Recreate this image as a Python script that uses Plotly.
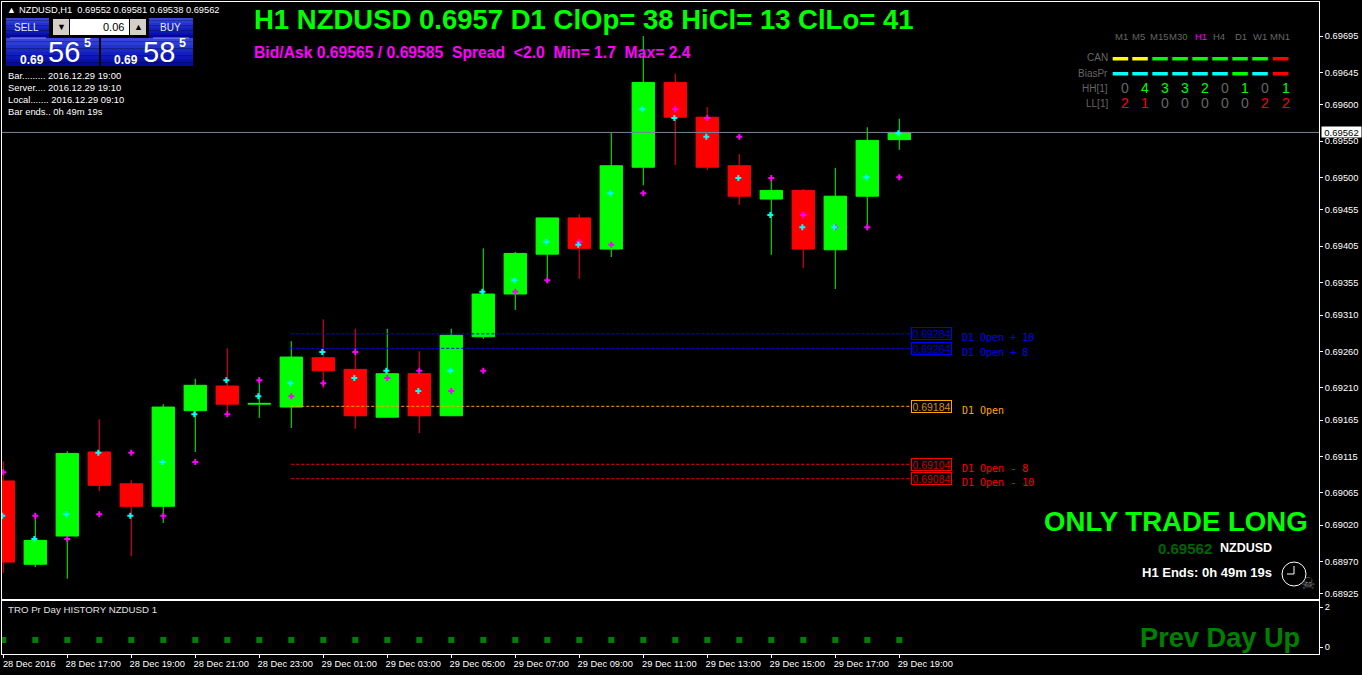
import plotly.graph_objects as go

hours = list(range(29))
opens = [0.69081,0.68966,0.69005,0.69121,0.69077,0.69046,0.69178,0.69212,0.69187,0.69183,0.69251,0.69235,0.69169,0.69229,0.69171,0.69280,0.69339,0.69394,0.69444,0.69401,0.69514,0.69631,0.69583,0.69516,0.69470,0.69482,0.69400,0.69474,0.69552]
highs = [0.69108,0.69033,0.69122,0.69166,0.69082,0.69187,0.69222,0.69264,0.69224,0.69274,0.69304,0.69291,0.69291,0.69260,0.69291,0.69402,0.69397,0.69444,0.69449,0.69562,0.69695,0.69643,0.69597,0.69532,0.69499,0.69484,0.69513,0.69569,0.69581]
lows = [0.68954,0.68962,0.68946,0.69067,0.68977,0.69023,0.69121,0.69173,0.69168,0.69154,0.69209,0.69153,0.69169,0.69147,0.69171,0.69277,0.69317,0.69354,0.69360,0.69390,0.69489,0.69517,0.69510,0.69462,0.69393,0.69375,0.69346,0.69427,0.69538]
closes = [0.68969,0.68999,0.69119,0.69075,0.69046,0.69183,0.69213,0.69187,0.69188,0.69252,0.69233,0.69171,0.69229,0.69171,0.69282,0.69339,0.69395,0.69444,0.69402,0.69516,0.69631,0.69583,0.69514,0.69474,0.69482,0.69401,0.69474,0.69551,0.69562]
cyan_marks = [0.69033,0.69001,0.69035,0.69120,0.69033,0.69107,0.69173,0.69220,0.69198,0.69216,0.69259,0.69223,0.69233,0.69205,0.69233,0.69342,0.69358,0.69411,0.69407,0.69478,0.69594,0.69582,0.69556,0.69499,0.69448,0.69431,0.69431,0.69500,0.69561]
magenta_marks = [0.69093,0.69033,0.69001,0.69035,0.69120,0.69033,0.69107,0.69173,0.69220,0.69198,0.69216,0.69259,0.69223,0.69233,0.69205,0.69233,0.69342,0.69358,0.69411,0.69407,0.69478,0.69594,0.69582,0.69556,0.69499,0.69448,0.69431,0.69431,0.69500]
history_marks = [0.35] * 29

price_ticks = [0.69695,0.69645,0.69600,0.69550,0.69500,0.69455,0.69405,0.69355,0.69310,0.69260,0.69210,0.69165,0.69115,0.69065,0.69020,0.68970,0.68925]
time_ticks = [0,2,4,6,8,10,12,14,16,18,20,22,24,26,28]
time_labels = ["28 Dec 2016","28 Dec 17:00","28 Dec 19:00","28 Dec 21:00","28 Dec 23:00","29 Dec 01:00","29 Dec 03:00","29 Dec 05:00","29 Dec 07:00","29 Dec 09:00","29 Dec 11:00","29 Dec 13:00","29 Dec 15:00","29 Dec 17:00","29 Dec 19:00"]

level_prices = [0.69284,0.69264,0.69184,0.69104,0.69084]
level_names = ["D1 Open + 10","D1 Open + 8","D1 Open","D1 Open - 8","D1 Open - 10"]
level_colors = ["#0000ff","#0000ff","#ffa500","#ff0000","#ff0000"]
level_text_colors = ["#0000d0","#0000d0","#d89000","#d00000","#d00000"]
last_price = 0.69562

tf_names = ["M1","M5","M15","M30","H1","H4","D1","W1","MN1"]
can_colors = ["#ffff00","#ffff00","#00ff00","#00ff00","#00ff00","#00ff00","#00ff00","#00ff00","#ff0000"]
bias_colors = ["#00ffff"]*6 + ["#00ff00","#00ffff","#ff0000"]
hh_values = [0,4,3,3,2,0,1,0,1]
ll_values = [2,1,0,0,0,0,0,2,2]

L, R, T, B = 2, 1319, 2, 654
W, H = 1362, 675
MAIN_BOTTOM, SUB_TOP = 598.7, 600.7
def px(x): return (x - L) / (R - L)
def py(y): return 1 - (y - T) / (B - T)

FONT = "Liberation Sans"
annotations, shapes = [], []

def text(x, y, s, color="#ffffff", size=10, anchor="left", bold=False, family=FONT, **kw):
    annotations.append(dict(x=px(x), y=py(y), xref="paper", yref="paper", text=f"<b>{s}</b>" if bold else s,
                            showarrow=False, xanchor=anchor, yanchor="middle", align=anchor,
                            borderpad=0, font=dict(color=color, size=size, family=family), **kw))

def rect(x0, y0, x1, y1, fill, line=None):
    shapes.append(dict(type="rect", xref="paper", yref="paper", x0=px(x0), x1=px(x1), y0=py(y0), y1=py(y1),
                       fillcolor=fill, line=dict(width=1 if line else 0, color=line or fill), layer="above"))

fig = go.Figure()
fig.add_trace(go.Candlestick(x=hours, open=opens, high=highs, low=lows, close=closes, xaxis="x2", yaxis="y",
    increasing=dict(line=dict(color="#00ff00", width=1), fillcolor="#00ff00"),
    decreasing=dict(line=dict(color="#ff0000", width=1), fillcolor="#ff0000"),
    whiskerwidth=0, hoverinfo="skip", showlegend=False))

level_start, level_end = 9, 28.37
for p, c in zip(level_prices, level_colors):
    fig.add_trace(go.Scatter(x=[level_start, level_end], y=[p, p], mode="lines", xaxis="x2", yaxis="y",
                             line=dict(color=c, width=1, dash="3px,2px"), hoverinfo="skip", showlegend=False))
fig.add_trace(go.Scatter(x=[-1, 42], y=[last_price, last_price], mode="lines", xaxis="x2", yaxis="y",
                         line=dict(color="#778899", width=1), hoverinfo="skip", showlegend=False))
fig.add_trace(go.Scatter(x=hours, y=magenta_marks, mode="markers", xaxis="x2", yaxis="y",
                         marker=dict(symbol="cross", size=5, color="#ff00ff"), hoverinfo="skip", showlegend=False))
fig.add_trace(go.Scatter(x=[h - 0.03 for h in hours], y=cyan_marks, mode="markers", xaxis="x2", yaxis="y",
                         marker=dict(symbol="cross", size=5, color="#00ffff"), hoverinfo="skip", showlegend=False))
fig.add_trace(go.Scatter(x=hours, y=history_marks, mode="markers", xaxis="x", yaxis="y2",
                         marker=dict(symbol="square", size=6, color="#008000"), hoverinfo="skip", showlegend=False))

# Price levels: boxed values and names
for p, n, c, tc in zip(level_prices, level_names, level_colors, level_text_colors):
    annotations.append(dict(x=px(931.5), y=p, xref="paper", yref="y", text=f"{p:.5f}", showarrow=False,
                            xanchor="center", yanchor="middle", width=39, height=11, borderwidth=1, borderpad=0,
                            bordercolor=c, font=dict(color=tc, size=10.5, family=FONT)))
    annotations.append(dict(x=px(960), y=p, yshift=-4, xref="paper", yref="y", text=n, showarrow=False,
                            xanchor="left", yanchor="middle", font=dict(color=c, size=10, family="DejaVu Sans Mono")))
annotations.append(dict(x=px(1321), y=last_price, xref="paper", yref="y", text=f"{last_price:.5f}", showarrow=False,
                        xanchor="left", yanchor="middle", width=39, height=10, bgcolor="#ffffff", borderpad=0,
                        font=dict(color="#000000", size=9.5, family=FONT)))

# Header
text(6, 10, "▲", size=9)
text(18, 10.5, "NZDUSD,H1&nbsp;&nbsp;0.69552 0.69581 0.69538 0.69562", size=9.3)
text(253, 20, "H1 NZDUSD 0.6957 D1 ClOp= 38 HiCl= 13 ClLo= 41", "#00ff00", 27.5, bold=True)
text(253, 52, "Bid/Ask 0.69565 / 0.69585&nbsp;&nbsp;Spread&nbsp;&nbsp;&lt;2.0&nbsp;&nbsp;Min= 1.7&nbsp;&nbsp;Max= 2.4", "#ff00ff", 15.7, bold=True)

# One click trading panel
BLUES = ["#3646dc", "#2c3cd6", "#2232ce", "#1a28c6", "#1420be", "#0e18b4", "#0a10aa", "#0608a0"]
def gradient(x0, y0, x1, y1):
    n = len(BLUES)
    for i, c in enumerate(BLUES):
        rect(x0, y0 + (y1 - y0) * i / n, x1, y0 + (y1 - y0) * (i + 1) / n, c)
gradient(6, 18, 49, 38)
gradient(149, 18, 193, 38)
gradient(6, 38, 99, 66)
gradient(101, 38, 193, 66)
rect(53, 19, 69, 35, "#d4d0c8")
rect(70, 19, 129, 35, "#ffffff")
rect(130, 19, 146, 35, "#d4d0c8")
shapes.append(dict(type="line", xref="paper", yref="paper", x0=px(10), x1=px(46), y0=py(38), y1=py(38),
                   line=dict(color="#8890e8", width=1), layer="above"))
shapes.append(dict(type="line", xref="paper", yref="paper", x0=px(153), x1=px(189), y0=py(38), y1=py(38),
                   line=dict(color="#8890e8", width=1), layer="above"))
text(26.7, 28, "SELL", "#e8e8ff", 10, "center")
text(170, 28, "BUY", "#e8e8ff", 10, "center")
text(61, 27, "▼", "#000000", 9, "center")
text(138, 27, "▲", "#000000", 9, "center")
text(124.5, 27, "0.06", "#000000", 11, "right")
text(19, 60, "0.69", "#ffffff", 12, bold=True)
text(47, 52, "56", "#ffffff", 29)
text(83, 43, "5", "#ffffff", 12.5, bold=True)
text(113, 60, "0.69", "#ffffff", 12, bold=True)
text(142, 52, "58", "#ffffff", 29)
text(178, 43, "5", "#ffffff", 12.5, bold=True)

for y, s in zip([75, 87, 99, 111], ["Bar......... 2016.12.29 19:00", "Server.... 2016.12.29 19:10",
                                    "Local....... 2016.12.29 09:10", "Bar ends.. 0h 49m 19s"]):
    text(7, y, s, "#ffffff", 9.4)

# Timeframe table
head_x = [1121.7, 1138.7, 1159, 1178, 1201, 1219, 1240.7, 1260, 1280]
num_x = [1125, 1145, 1165, 1185, 1205, 1225, 1245, 1265, 1285.7]
dash_x = [1112.7, 1132.3, 1152.3, 1172.3, 1192.3, 1212.3, 1232.3, 1252.3, 1273]
for name, x in zip(tf_names, head_x):
    text(x, 36, name, "#ff00ff" if name == "H1" else "#666666", 9.5, "center")
for y, s in zip([58, 73, 88, 103], ["CAN", "BiasPr", "HH[1]", "LL[1]"]):
    text(1109, y, s, "#666666", 10, "right")
for i in range(9):
    rect(dash_x[i], 57, dash_x[i] + 15.5, 60.5, can_colors[i])
    rect(dash_x[i], 72, dash_x[i] + 15.5, 75.5, bias_colors[i])
    text(num_x[i], 88, str(hh_values[i]), "#00ff00" if hh_values[i] else "#666666", 14, "center")
    text(num_x[i], 103, str(ll_values[i]), "#ff0000" if ll_values[i] else "#666666", 14, "center")

# Lower right block
text(1309, 521, "ONLY TRADE LONG", "#00ff00", 27.6, "right", bold=True)
text(1213, 548, "0.69562", "#006400", 15, "right", bold=True)
text(1273, 548, "NZDUSD", "#ffffff", 12.5, "right", bold=True)
text(1273, 572, "H1 Ends: 0h 49m 19s", "#ffffff", 13, "right", bold=True)
shapes.append(dict(type="circle", xref="paper", yref="paper", x0=px(1282), x1=px(1306), y0=py(562), y1=py(586),
                   line=dict(color="#ffffff", width=1), layer="above"))
for x0, y0, x1, y1 in [(1294, 574, 1294, 566), (1294, 574, 1287, 574)]:
    shapes.append(dict(type="line", xref="paper", yref="paper", x0=px(x0), x1=px(x1), y0=py(y0), y1=py(y1),
                       line=dict(color="#ffffff", width=1), layer="above"))
text(1308, 583, "☠", "#777777", 16, "center", family="DejaVu Sans")

# Sub window
text(7, 609, "TRO Pr Day HISTORY NZDUSD 1", "#e0e0e0", 9.7)
text(1301, 637, "Prev Day Up", "#008000", 27.2, "right", bold=True)

axis_common = dict(showgrid=False, zeroline=False, showline=True, linecolor="#ffffff", linewidth=1, mirror=True,
                   ticks="outside", ticklen=3, tickcolor="#ffffff", tickwidth=1,
                   tickfont=dict(color="#ffffff", size=9.3, family=FONT))
x_range = [-0.04, 41.116]
span = B - T
y_split = (B - MAIN_BOTTOM) / span
y_split2 = (B - SUB_TOP) / span
fig.update_layout(
    width=W, height=H, autosize=False,
    margin=dict(l=L, r=W - R, t=T, b=H - B, pad=0, autoexpand=False),
    paper_bgcolor="#000000", plot_bgcolor="#000000", showlegend=False, dragmode=False,
    boxgap=0,
    xaxis=dict(axis_common, domain=[0, 1], range=x_range, anchor="y2", tickmode="array", tickvals=time_ticks,
               ticktext=time_labels, ticklabelshift=26, ticklabelstandoff=-2, rangeslider=dict(visible=False)),
    xaxis2=dict(axis_common, domain=[0, 1], range=x_range, anchor="y", showticklabels=False, ticks="",
                matches="x", rangeslider=dict(visible=False)),
    yaxis=dict(axis_common, domain=[y_split, 1], range=[0.689185, 0.69742], side="right", anchor="x2", tickmode="array",
               tickvals=price_ticks, ticktext=[f"{v:.5f}" for v in price_ticks]),
    yaxis2=dict(axis_common, domain=[0, y_split2], range=[-0.35, 2.315], side="right", anchor="x", tickmode="array",
                tickvals=[0, 2], ticktext=["0", "2"]),
    annotations=annotations, shapes=shapes,
)

fig.write_html("out.html", config=dict(displayModeBar=False, staticPlot=True),
               post_script="document.body.style.margin='0';document.body.style.background='#000';document.documentElement.style.overflow='hidden';")
